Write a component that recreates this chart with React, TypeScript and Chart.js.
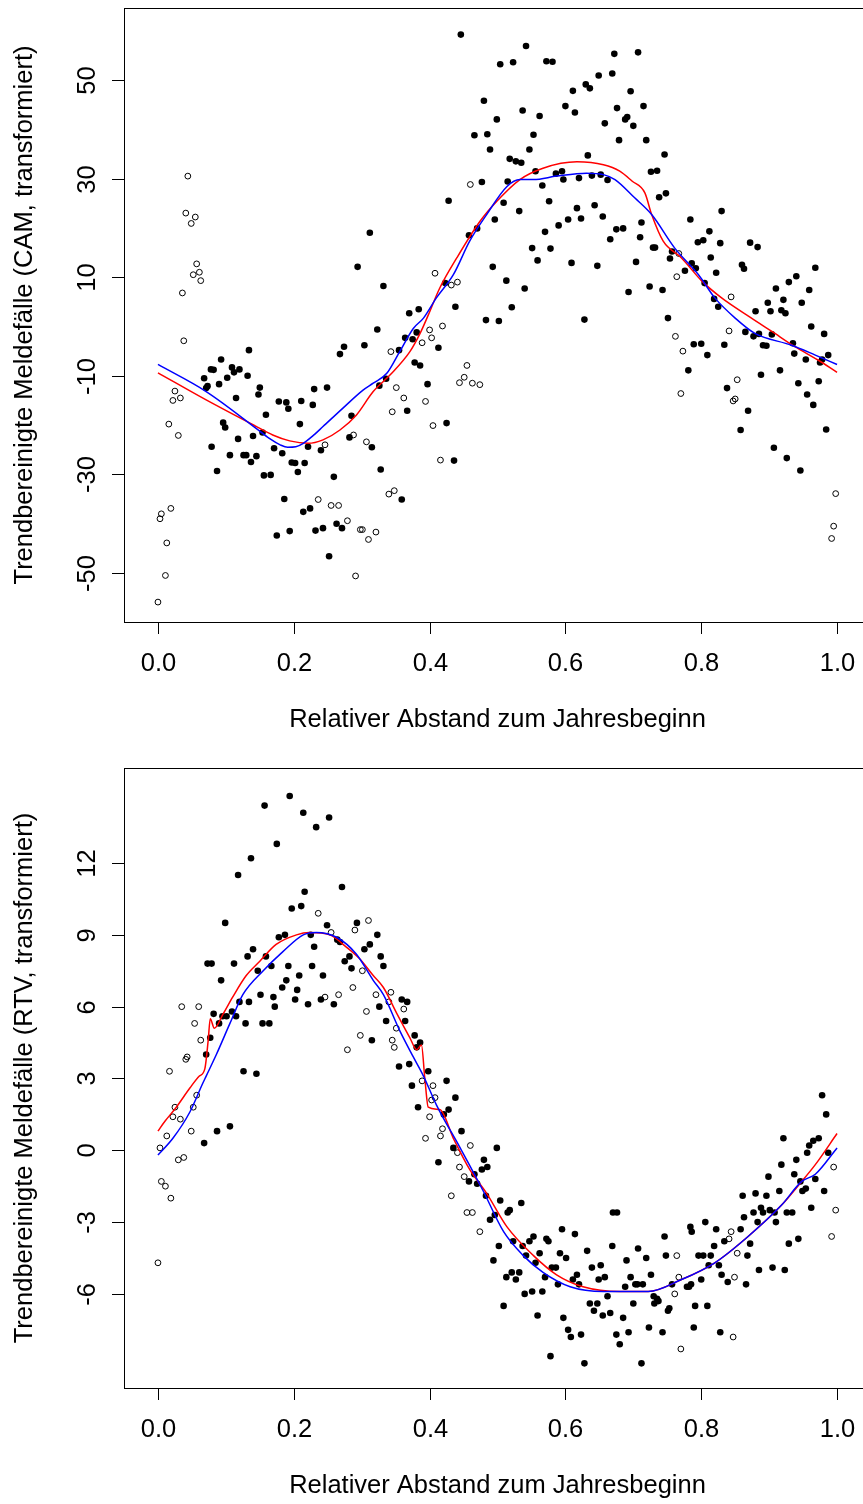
import React, { useEffect, useRef } from "react";
import { Chart, registerables } from "chart.js";
Chart.register(...registerables);

// ---------- DATA ----------
const xTickValues = [0, 0.2, 0.4, 0.6, 0.8, 1.0];
const xTickLabels = ["0.0", "0.2", "0.4", "0.6", "0.8", "1.0"];
const camTickValues = [-50, -30, -10, 10, 30, 50];
const camTickLabels = ["-50", "-30", "-10", "10", "30", "50"];
const rtvTickValues = [-6, -3, 0, 3, 6, 9, 12];
const rtvTickLabels = ["-6", "-3", "0", "3", "6", "9", "12"];

const xTitle = "Relativer Abstand zum Jahresbeginn";
const camTitle = "Trendbereinigte Meldefälle (CAM, transformiert)";
const rtvTitle = "Trendbereinigte Meldefälle (RTV, transformiert)";

// CAM: filled points [x, y]
const camFilled: number[][] = [
  [0.312,19.0],[0.294,12.1],
  [0.446,59.2],[0.542,56.9],[0.504,53.2],[0.523,53.6],[0.572,53.8],[0.581,53.7],[0.672,55.3],[0.649,50.9],
  [0.669,51.3],[0.611,47.8],[0.630,49.1],[0.636,48.3],[0.480,45.8],[0.537,43.8],[0.600,44.7],[0.614,43.4],
  [0.676,44.3],[0.499,42.0],[0.562,42.7],[0.658,41.2],[0.466,38.8],[0.485,39.0],[0.553,38.9],[0.679,37.8],
  [0.489,35.9],[0.547,35.9],[0.518,34.0],[0.527,33.5],[0.535,33.2],[0.633,34.7],[0.556,31.5],[0.586,31.0],
  [0.595,31.5],[0.597,29.8],[0.620,30.1],[0.639,30.6],[0.652,30.8],[0.662,29.7],[0.477,29.3],[0.515,29.4],
  [0.566,28.6],[0.428,25.5],[0.509,25.1],[0.576,25.4],[0.532,23.4],[0.617,24.0],[0.643,24.6],[0.496,21.7],
  [0.604,21.7],[0.623,21.9],[0.655,22.3],[0.590,20.5],[0.570,19.2],[0.675,19.7],[0.666,17.7],[0.458,18.5],
  [0.470,19.9],[0.551,15.9],[0.578,15.8],[0.559,13.4],[0.609,12.9],[0.647,12.3],[0.493,12.1],[0.423,8.8],
  [0.332,8.2],[0.513,9.3],[0.540,7.7],[0.438,4.0],[0.521,3.9],[0.370,2.7],[0.384,3.5],[0.483,1.3],
  [0.502,1.1],[0.628,1.4],
  [0.707,55.6],[0.696,47.7],[0.715,44.7],[0.688,42.0],[0.691,42.5],[0.700,40.7],[0.719,37.8],[0.746,34.9],
  [0.726,31.4],[0.735,31.6],[0.738,26.2],[0.748,27.0],[0.830,23.4],[0.784,21.7],[0.712,21.1],[0.685,19.9],
  [0.710,18.1],[0.812,19.3],[0.795,17.1],[0.803,17.5],[0.828,16.9],[0.872,17.0],[0.883,16.1],[0.729,16.0],
  [0.732,16.0],[0.814,14.0],[0.754,13.8],[0.757,15.2],[0.786,12.8],[0.792,11.8],[0.704,13.1],[0.776,11.3],
  [0.822,10.9],[0.860,12.5],[0.863,11.7],[0.805,8.8],[0.693,7.0],[0.724,8.1],[0.743,7.4],[0.819,5.6],
  [0.825,4.0],[0.751,1.7],[0.880,3.1],[0.898,4.8],[0.902,3.1],[0.910,7.7],[0.921,5.4],[0.918,3.3],
  [0.924,2.7],[0.929,9.0],[0.940,10.2],[0.948,4.8],[0.959,7.4],[0.968,11.9],
  [0.789,-3.6],[0.800,-3.5],[0.809,-5.8],[0.834,-3.7],[0.865,-1.1],[0.877,-2.0],[0.885,-1.5],[0.891,-3.8],
  [0.896,-3.9],[0.904,-1.6],[0.935,-3.4],[0.937,-5.5],[0.954,-6.7],[0.962,0.0],[0.981,-1.5],[0.987,-5.8],
  [0.975,-7.3],[0.978,-6.7],[0.781,-8.9],[0.838,-12.5],[0.869,-17.1],[0.858,-21.0],[0.888,-9.8],[0.916,-8.9],
  [0.943,-11.5],[0.956,-13.8],[0.965,-15.9],[0.973,-11.1],[0.984,-20.9],[0.907,-24.6],[0.926,-26.7],[0.946,-29.2],
  [0.134,-4.8],[0.093,-6.7],[0.078,-8.7],[0.082,-8.8],[0.109,-8.3],[0.120,-8.7],[0.112,-9.3],[0.068,-10.5],
  [0.102,-10.4],[0.132,-10.0],[0.073,-12.1],[0.071,-12.5],[0.090,-11.7],[0.150,-12.4],[0.148,-13.8],[0.115,-14.5],
  [0.159,-17.9],[0.096,-19.5],[0.099,-20.5],[0.118,-22.8],[0.140,-22.2],[0.154,-21.5],[0.079,-24.4],[0.106,-26.1],
  [0.126,-26.1],[0.130,-26.1],[0.145,-26.3],[0.137,-27.5],[0.087,-29.3],[0.156,-30.2],[0.166,-30.1],[0.178,-15.2],
  [0.189,-15.4],[0.192,-16.7],[0.211,-15.1],[0.228,-15.9],[0.230,-12.7],[0.249,-12.4],[0.209,-19.8],[0.171,-24.7],
  [0.183,-25.7],[0.197,-27.6],[0.202,-27.7],[0.216,-27.7],[0.206,-29.5],[0.221,-24.4],[0.240,-25.1],[0.259,-30.5],
  [0.268,-5.6],[0.274,-4.1],[0.304,-3.8],[0.285,-18.1],[0.282,-22.5],[0.315,-24.5],[0.186,-35.0],[0.214,-37.6],
  [0.224,-36.9],[0.263,-40.0],[0.271,-40.9],[0.232,-41.4],[0.243,-40.9],[0.175,-42.4],[0.194,-41.5],[0.252,-46.6],
  [0.323,-0.6],[0.364,-2.3],[0.375,-2.6],[0.381,-1.2],[0.413,-4.3],[0.355,-4.8],[0.378,-7.3],[0.386,-7.9],
  [0.397,-11.7],[0.336,-10.6],[0.326,-12.0],[0.367,-17.1],[0.425,-19.6],[0.436,-27.2],[0.328,-29.0],[0.359,-35.1],
];

// CAM: open points [x, y]
const camOpen: number[][] = [
  [0.044,30.5],[0.041,23.0],[0.055,22.2],[0.049,20.9],[0.057,12.7],[0.052,10.5],[0.061,11.0],[0.063,9.3],
  [0.036,6.8],[0.460,28.8],[0.408,10.8],[0.432,8.4],[0.441,9.0],[0.767,14.8],[0.764,10.1],[0.844,6.0],
  [0.762,-2.0],[0.841,-0.9],[0.773,-5.0],[0.770,-13.6],[0.853,-10.8],[0.847,-15.1],[0.850,-14.7],[0.998,-33.9],
  [0.995,-40.5],[0.992,-43.0],[0.038,-2.9],[0.025,-13.1],[0.022,-15.0],[0.033,-14.5],[0.016,-19.8],[0.030,-22.1],
  [0.246,-24.0],[0.288,-22.0],[0.307,-23.4],[0.236,-35.1],[0.255,-36.3],[0.266,-36.3],[0.279,-39.4],[0.298,-41.2],
  [0.301,-41.2],[0.310,-43.2],[0.291,-50.6],[0.019,-36.9],[0.005,-38.0],[0.003,-39.0],[0.013,-43.9],[0.011,-50.5],
  [0.000,-55.9],[0.400,-0.7],[0.419,0.1],[0.403,-2.3],[0.389,-3.3],[0.343,-5.1],[0.455,-7.9],[0.451,-10.3],
  [0.444,-11.4],[0.463,-11.5],[0.474,-11.8],[0.351,-12.4],[0.362,-14.5],[0.394,-15.2],[0.345,-17.3],[0.405,-20.1],
  [0.416,-27.1],[0.340,-34.0],[0.348,-33.3],[0.321,-41.7],
];

// CAM: fitted curves
const camBlueX = [0, 0.071, 0.145, 0.164, 0.180, 0.191, 0.203, 0.214, 0.228, 0.243, 0.272, 0.302, 0.317, 0.337, 0.356, 0.376, 0.391, 0.410, 0.435, 0.459, 0.484, 0.514, 0.533, 0.553, 0.587, 0.631, 0.656, 0.673, 0.702, 0.727, 0.761, 0.796, 0.820, 0.850, 0.879, 0.933, 0.968, 1.0];
const camBlueY = [-7.7, -13.2, -20.7, -22.7, -24.0, -24.5, -24.4, -23.7, -22.2, -20.3, -16.6, -12.9, -11.5, -9.5, -5.1, -0.4, 1.7, 5.8, 10.5, 17.3, 22.7, 28.4, 29.8, 29.8, 30.5, 31.1, 30.8, 29.8, 26.1, 22.7, 15.9, 10.5, 5.8, 1.7, -1.4, -3.8, -5.8, -7.7];
const camRedX = [0, 0.071, 0.145, 0.169, 0.194, 0.221, 0.243, 0.268, 0.292, 0.317, 0.342, 0.371, 0.386, 0.398, 0.415, 0.440, 0.474, 0.499, 0.533, 0.567, 0.617, 0.656, 0.680, 0.698, 0.717, 0.727, 0.744, 0.771, 0.801, 0.830, 0.874, 0.904, 0.938, 0.972, 1.0];
const camRedY = [-9.4, -14.9, -20.3, -22.0, -23.2, -23.7, -23.0, -21.0, -18.0, -13.2, -9.8, -5.1, -1.4, 2.3, 7.8, 13.9, 21.3, 25.4, 29.8, 32.1, 33.4, 32.8, 31.5, 29.5, 27.1, 22.7, 17.3, 13.9, 9.2, 5.8, 1.7, -1.0, -4.1, -6.8, -9.3];

// RTV: filled points [x, y]
const rtvFilled: number[][] = [
  [0.194,14.8],[0.157,14.4],[0.214,14.1],[0.252,13.9],[0.233,13.5],[0.175,12.8],[0.137,12.2],[0.118,11.5],
  [0.271,11.0],[0.216,10.8],[0.197,10.1],[0.211,10.2],[0.099,9.5],[0.249,9.4],[0.293,9.5],[0.178,8.9],
  [0.187,9.0],[0.225,9.0],[0.264,8.8],[0.268,8.7],[0.312,8.6],[0.230,8.5],[0.304,8.4],[0.140,8.4],
  [0.132,8.1],[0.159,8.1],[0.282,8.1],[0.073,7.8],[0.079,7.8],[0.112,7.8],[0.275,7.9],[0.167,7.7],
  [0.192,7.7],[0.227,7.7],[0.285,7.6],[0.147,7.5],[0.208,7.3],[0.243,7.3],[0.093,7.1],[0.189,7.1],
  [0.183,6.8],[0.205,6.7],[0.151,6.5],[0.170,6.4],[0.202,6.3],[0.240,6.3],[0.259,6.1],[0.221,6.1],
  [0.172,6.0],[0.120,6.2],[0.134,6.2],[0.082,5.7],[0.109,5.8],[0.101,5.6],[0.095,5.6],[0.115,5.6],
  [0.090,5.3],[0.129,5.3],[0.154,5.3],[0.164,5.3],[0.315,4.6],[0.077,4.7],[0.071,4.0],[0.126,3.3],
  [0.145,3.2],
  [0.323,9.0],[0.328,8.1],[0.332,7.7],[0.326,6.0],[0.359,6.3],[0.367,6.2],[0.336,5.4],[0.364,5.4],
  [0.378,4.8],[0.386,4.5],[0.381,4.3],[0.355,3.5],[0.370,3.6],[0.398,3.3],
  [0.087,0.8],[0.106,1.0],[0.068,0.3],
  [0.374,2.7],[0.425,2.9],[0.438,2.2],[0.383,1.8],[0.428,1.7],[0.421,1.5],[0.447,0.8],[0.499,0.1],
  [0.435,0.1],[0.413,-0.5],[0.480,-0.4],[0.485,-0.7],[0.477,-0.8],[0.466,-1.0],[0.458,-1.3],[0.470,-1.4],
  [0.483,-1.9],[0.504,-2.1],[0.535,-2.2],[0.518,-2.5],[0.515,-2.6],[0.496,-2.7],[0.489,-2.9],[0.595,-3.3],
  [0.614,-3.5],[0.553,-3.6],[0.547,-3.8],[0.572,-3.7],[0.575,-3.8],[0.523,-3.8],[0.537,-4.0],[0.502,-4.0],
  [0.632,-4.2],[0.669,-4.0],[0.562,-4.3],[0.592,-4.3],[0.601,-4.5],[0.542,-4.4],[0.556,-4.7],[0.494,-4.6],
  [0.652,-4.8],[0.639,-4.9],[0.580,-4.9],[0.586,-4.9],[0.521,-5.1],[0.532,-5.1],[0.617,-5.2],[0.658,-5.3],
  [0.649,-5.4],[0.513,-5.3],[0.527,-5.4],[0.570,-5.3],[0.611,-5.4],[0.589,-5.6],[0.620,-5.6],[0.540,-6.0],
  [0.551,-5.9],[0.566,-5.9],[0.636,-6.4],[0.647,-6.4],[0.662,-6.1],[0.642,-6.7],[0.655,-6.9],[0.666,-6.8],
  [0.509,-6.5],[0.559,-6.9],[0.597,-7.0],[0.604,-7.5],[0.608,-7.8],[0.623,-7.7],[0.675,-7.7],[0.680,-8.1],
  [0.578,-8.6],[0.628,-8.9],[0.670,-2.6],[0.676,-2.6],
  [0.978,2.3],[0.984,1.5],[0.921,0.5],[0.965,0.4],[0.973,0.5],[0.959,0.2],[0.956,-0.1],[0.987,-0.1],
  [0.918,-0.6],[0.940,-0.4],[0.937,-1.0],[0.946,-1.3],[0.968,-1.2],[0.899,-1.1],[0.954,-1.6],[0.949,-1.7],
  [0.981,-1.7],[0.861,-1.9],[0.880,-1.8],[0.896,-1.9],[0.915,-1.7],[0.877,-2.6],[0.888,-2.4],[0.891,-2.6],
  [0.901,-2.5],[0.908,-2.6],[0.926,-2.6],[0.934,-2.6],[0.962,-2.4],[0.863,-2.8],[0.883,-3.0],[0.910,-3.0],
  [0.858,-3.3],[0.872,-3.9],[0.868,-4.4],[0.943,-3.7],[0.929,-3.9],[0.784,-3.2],[0.786,-3.4],[0.806,-3.0],
  [0.822,-3.3],[0.834,-3.8],[0.819,-4.0],[0.746,-3.6],[0.796,-4.4],[0.803,-4.4],[0.814,-4.4],[0.748,-4.4],
  [0.719,-4.5],[0.690,-4.6],[0.707,-4.1],[0.811,-4.8],[0.826,-4.8],[0.885,-5.0],[0.905,-4.9],[0.923,-5.0],
  [0.726,-5.2],[0.696,-5.3],[0.800,-5.4],[0.830,-5.2],[0.839,-5.5],[0.866,-5.6],[0.703,-5.6],[0.706,-5.6],
  [0.714,-5.6],[0.757,-5.6],[0.779,-5.7],[0.782,-5.7],[0.785,-5.6],[0.688,-5.7],[0.730,-6.1],[0.735,-6.2],
  [0.737,-6.3],[0.731,-6.4],[0.700,-6.4],[0.791,-6.5],[0.809,-6.5],[0.753,-6.6],[0.751,-6.7],[0.685,-7.0],
  [0.723,-7.4],[0.693,-7.6],[0.743,-7.6],[0.789,-7.4],[0.828,-7.6],[0.712,-8.9],
];

// RTV: open points [x, y]
const rtvOpen: number[][] = [
  [0.236,9.9],[0.255,9.1],[0.290,9.2],[0.310,9.6],[0.301,7.5],[0.287,6.8],[0.246,6.4],[0.266,6.5],
  [0.035,6.0],[0.060,6.0],[0.307,5.8],[0.054,5.3],[0.063,4.6],[0.298,4.8],[0.279,4.2],[0.041,3.8],
  [0.043,3.9],[0.017,3.3],[0.321,6.5],[0.343,6.6],[0.362,5.9],[0.340,6.2],[0.351,5.1],[0.345,4.6],
  [0.348,4.3],[0.057,2.3],[0.025,1.8],[0.052,1.8],[0.022,1.4],[0.033,1.3],[0.049,0.8],[0.013,0.6],
  [0.003,0.1],[0.030,-0.4],[0.038,-0.3],[0.005,-1.3],[0.011,-1.5],[0.019,-2.0],[0.000,-4.7],[0.389,2.9],
  [0.405,2.7],[0.408,2.2],[0.403,2.1],[0.400,1.4],[0.419,0.9],[0.416,0.6],[0.394,0.5],[0.460,0.2],
  [0.441,-0.1],[0.444,-0.7],[0.451,-1.1],[0.432,-1.9],[0.455,-2.6],[0.463,-2.6],[0.474,-3.4],[0.995,-0.7],
  [0.998,-2.5],[0.992,-3.6],[0.844,-3.4],[0.841,-3.7],[0.853,-4.3],[0.764,-4.4],[0.767,-5.3],[0.849,-5.3],
  [0.761,-6.0],[0.847,-7.8],[0.770,-8.3],
];

// RTV: fitted curves
const rtvBlueX = [0, 0.022, 0.047, 0.066, 0.071, 0.086, 0.106, 0.125, 0.155, 0.184, 0.214, 0.233, 0.263, 0.292, 0.317, 0.332, 0.356, 0.376, 0.391, 0.410, 0.445, 0.479, 0.509, 0.538, 0.567, 0.607, 0.656, 0.680, 0.722, 0.771, 0.820, 0.869, 0.918, 0.948, 0.968, 1.0];
const rtvBlueY = [-0.2, 0.5, 1.6, 2.8, 3.1, 4.0, 5.3, 6.5, 7.5, 8.3, 9.0, 9.1, 8.9, 8.2, 7.1, 6.5, 5.0, 3.9, 3.1, 1.9, 0.1, -1.7, -3.4, -4.4, -5.1, -5.7, -5.9, -5.9, -5.9, -5.4, -4.7, -3.6, -2.3, -1.3, -1.0, 0.1];
const rtvRedX = [0, 0.010, 0.027, 0.047, 0.061, 0.069, 0.074, 0.077, 0.083, 0.096, 0.110, 0.130, 0.150, 0.174, 0.204, 0.223, 0.253, 0.277, 0.297, 0.317, 0.332, 0.352, 0.371, 0.381, 0.388, 0.393, 0.398, 0.415, 0.435, 0.459, 0.484, 0.514, 0.553, 0.587, 0.626, 0.680, 0.722, 0.771, 0.820, 0.869, 0.918, 0.948, 0.968, 1.0];
const rtvRedY = [0.8, 1.2, 1.8, 2.6, 3.1, 3.4, 4.6, 5.5, 5.1, 5.7, 6.4, 7.3, 7.9, 8.6, 9.0, 9.1, 9.0, 8.5, 8.0, 7.3, 6.8, 5.7, 4.7, 4.2, 4.4, 3.0, 1.8, 1.7, 0.5, -0.8, -1.8, -3.2, -4.4, -5.2, -5.7, -5.9, -5.9, -5.4, -4.7, -3.6, -2.3, -1.3, -0.6, 0.7];

// ---------- CHART ----------
const FONT = '"Liberation Sans", Arial, Helvetica, sans-serif';
const FS = 25.5;
const CW = 880;
const CH = 752;

type PanelProps = {
  top: number;
  padTop: number;
  padBottom: number;
  yMin: number;
  yMax: number;
  yTicks: number[];
  yLabels: string[];
  yTitle: string;
  filled: number[][];
  open: number[][];
  blueX: number[];
  blueY: number[];
  redX: number[];
  redY: number[];
};

function Panel(p: PanelProps) {
  const ref = useRef<HTMLCanvasElement | null>(null);
  useEffect(() => {
    if (!ref.current) return;
    const axesPlugin = {
      id: "rAxes",
      afterDraw(chart: any) {
        const { ctx, chartArea: a, scales } = chart;
        const xs = scales.x;
        const ys = scales.y;
        ctx.save();
        ctx.strokeStyle = "#000";
        ctx.lineWidth = 1;
        ctx.strokeRect(Math.round(a.left) + 0.5, Math.round(a.top) + 0.5, Math.round(a.right - a.left), Math.round(a.bottom - a.top));
        ctx.fillStyle = "#000";
        ctx.font = `${FS}px ${FONT}`;
        ctx.textAlign = "center";
        ctx.textBaseline = "middle";
        const TCK = 12;
        xTickValues.forEach((v, i) => {
          const px = Math.round(xs.getPixelForValue(v)) + 0.5;
          ctx.beginPath();
          ctx.moveTo(px, a.bottom);
          ctx.lineTo(px, a.bottom + TCK);
          ctx.stroke();
          ctx.fillText(xTickLabels[i], px, a.bottom + 42);
        });
        p.yTicks.forEach((v, i) => {
          const py = Math.round(ys.getPixelForValue(v)) + 0.5;
          ctx.beginPath();
          ctx.moveTo(a.left - TCK, py);
          ctx.lineTo(a.left, py);
          ctx.stroke();
          ctx.save();
          ctx.translate(a.left - 36, py);
          ctx.rotate(-Math.PI / 2);
          ctx.fillText(p.yLabels[i], 0, 0);
          ctx.restore();
        });
        ctx.fillText(xTitle, (a.left + a.right) / 2, a.bottom + 98);
        ctx.save();
        ctx.translate(a.left - 99, (a.top + a.bottom) / 2);
        ctx.rotate(-Math.PI / 2);
        ctx.fillText(p.yTitle, 0, 0);
        ctx.restore();
        ctx.restore();
      },
    };

    const toXY = (xs: number[], ys: number[]) => xs.map((x, i) => ({ x, y: ys[i] }));
    const pairs = (arr: number[][]) => arr.map(([x, y]) => ({ x, y }));

    const chart = new Chart(ref.current, {
      type: "scatter",
      data: {
        datasets: [
          {
            type: "line",
            data: toXY(p.blueX, p.blueY),
            borderColor: "#0000ff",
            borderWidth: 1.5,
            pointRadius: 0,
            cubicInterpolationMode: "monotone",
            fill: false,
            showLine: true,
          } as any,
          {
            type: "line",
            data: toXY(p.redX, p.redY),
            borderColor: "#ff0000",
            borderWidth: 1.5,
            pointRadius: 0,
            cubicInterpolationMode: "monotone",
            fill: false,
            showLine: true,
          } as any,
          {
            data: pairs(p.filled),
            pointRadius: 3.3,
            pointBorderWidth: 0,
            pointBackgroundColor: "#000",
            pointBorderColor: "#000",
          },
          {
            data: pairs(p.open),
            pointRadius: 2.9,
            pointBorderWidth: 1,
            pointBackgroundColor: "rgba(0,0,0,0)",
            pointBorderColor: "#000",
          },
        ],
      },
      options: {
        animation: false,
        responsive: false,
        events: [],
        devicePixelRatio: 1,
        layout: { padding: { left: 124, right: CW - 871, top: p.padTop, bottom: p.padBottom } },
        plugins: { legend: { display: false }, tooltip: { enabled: false } },
        scales: {
          x: { type: "linear", min: -0.05, max: 1.05, display: false },
          y: { type: "linear", min: p.yMin, max: p.yMax, display: false },
        },
      },
      plugins: [axesPlugin],
    });
    return () => chart.destroy();
  }, []);
  return (
    <div style={{ position: "absolute", left: 0, top: p.top, width: 863, height: CH, overflow: "hidden" }}>
      <canvas ref={ref} width={CW} height={CH} style={{ display: "block", width: CW, height: CH }} />
    </div>
  );
}

export default function App() {
  return (
    <div style={{ position: "absolute", left: 0, top: 0, width: 863, height: 1504, overflow: "hidden", background: "#fff" }}>
      <Panel
        top={0}
        padTop={8}
        padBottom={CH - 622}
        yMin={-59.94}
        yMax={64.6}
        yTicks={camTickValues}
        yLabels={camTickLabels}
        yTitle={camTitle}
        filled={camFilled}
        open={camOpen}
        blueX={camBlueX}
        blueY={camBlueY}
        redX={camRedX}
        redY={camRedY}
      />
      <Panel
        top={752}
        padTop={16}
        padBottom={CH - 636}
        yMin={-9.93}
        yMax={15.97}
        yTicks={rtvTickValues}
        yLabels={rtvTickLabels}
        yTitle={rtvTitle}
        filled={rtvFilled}
        open={rtvOpen}
        blueX={rtvBlueX}
        blueY={rtvBlueY}
        redX={rtvRedX}
        redY={rtvRedY}
      />
    </div>
  );
}
